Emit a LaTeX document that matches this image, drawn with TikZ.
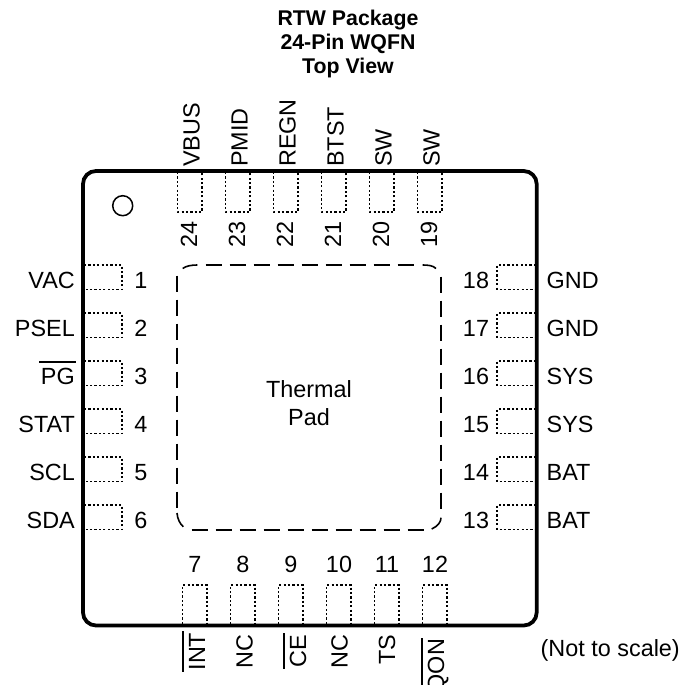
\documentclass[tikz,border=0pt]{standalone}
\usepackage{fontspec}
\setmainfont{Liberation Sans}
\usepackage{tikz}
\usetikzlibrary{positioning,calc}

\newcommand{\pinbar}[1]{\setbox0=\hbox{#1}\rlap{\kern-1.5pt\rule[21.4pt]{\dimexpr\wd0+3pt\relax}{1.3pt}}\box0}

\tikzset{
    body/.style={line width=3.8, rounded corners=13},
    pad/.style={line width=1.6, dash pattern=on 2.2 off 2.2},
    thermal/.style={line width=1.6, dash pattern=on 16 off 8},
    pinlabel/.style={inner sep=0, font=\fontsize{23.4}{28}\selectfont},
    title/.style={inner sep=0, align=center, font=\fontsize{21.3}{24}\selectfont\bfseries}
}

\begin{document}
\begin{tikzpicture}[x=1pt,y=-1pt]
    \useasboundingbox (0,0) rectangle (681,685);
    \node[title] (heading) at (348,44) {RTW Package\\24-Pin WQFN\\Top View};
    \draw[body] (83,171) rectangle (536.7,625.5);
    \draw[line width=1.5] (122.7,205.7) circle (10);
    % thermal pad
    \draw[thermal] (205.7,265) -- (414,265) (441,276.7) -- (441,509) (191.7,530) -- (424,530) (177,275.7) -- (177,508);
    \draw[line width=1.6] (182.7,268.5) .. controls (186,266) and (191,265) .. (197.3,265);
    \draw[line width=1.6] (422.7,265) .. controls (428,265) and (433,265.5) .. (436,268.5);
    \draw[line width=1.6] (441,517.7) .. controls (441,522) and (438,526) .. (431.7,529);
    \draw[line width=1.6] (177,513) .. controls (177.5,519) and (180,524) .. (183.3,526.7);
    \node[pinlabel, align=center] (pad) at (309,403) {Thermal\\Pad};
    % left side
    \foreach \n/\t in {1/VAC,2/PSEL,3/\pinbar{PG},4/STAT,5/SCL,6/SDA} {
        \pgfmathsetmacro{\py}{265+48*(\n-1)}
        \draw[pad] (84,\py) -- (122,\py) -- (122,\py+24.5) -- (84,\py+24.5);
        \node[pinlabel, anchor=base] (num\n) at (141,\py+23) {\n};
        \node[pinlabel, anchor=base east] (pin\n) at (75,\py+23) {\t};
    }
    % bottom side
    \foreach \n/\t/\bx/\ey in {7/\pinbar{INT}/205/632.5,8/NC/252.7/634.5,9/\pinbar{CE}/306/634.7,10/NC/347.7/634.5,11/TS/395/634.5,12/\pinbar{QON}/444/638.8} {
        \pgfmathsetmacro{\px}{182.5+48*(\n-7)}
        \draw[pad] (\px,624) -- (\px,585) -- (\px+24.5,585) -- (\px+24.5,624);
        \node[pinlabel, anchor=base] (num\n) at (\px+12.5,572) {\n};
        \node[pinlabel, rotate=90, anchor=base east] (pin\n) at (\bx,\ey) {\t};
    }
    % right side
    \foreach \n/\t in {13/BAT,14/BAT,15/SYS,16/SYS,17/GND,18/GND} {
        \pgfmathsetmacro{\py}{505-48*(\n-13)}
        \draw[pad] (536,\py) -- (497,\py) -- (497,\py+24.5) -- (536,\py+24.5);
        \node[pinlabel, anchor=base] (num\n) at (476,\py+23) {\n};
        \node[pinlabel, anchor=base west] (pin\n) at (546.5,\py+23) {\t};
    }
    % top side
    \foreach \n/\t in {19/SW,20/SW,21/BTST,22/REGN,23/PMID,24/VBUS} {
        \pgfmathsetmacro{\px}{417.5-48*(\n-19)}
        \draw[pad] (\px,172) -- (\px,212) -- (\px+24.5,212) -- (\px+24.5,172);
        \node[pinlabel, rotate=90, anchor=base] (num\n) at (\px+19.5,234) {\n};
        \node[pinlabel, rotate=90, anchor=base west] (pin\n) at (\px+22,167) {\t};
    }
    \node[pinlabel, anchor=base east] (scale) at (680,656) {(Not to scale)};
\end{tikzpicture}
\end{document}
